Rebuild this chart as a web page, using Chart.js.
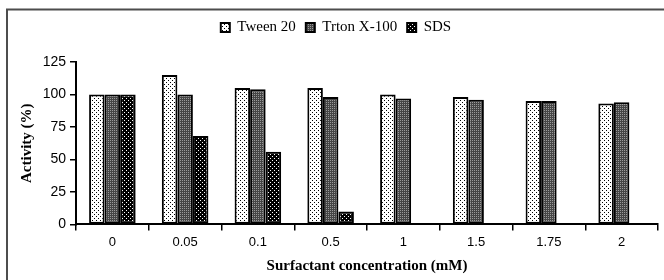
<!DOCTYPE html>
<html><head><meta charset="utf-8">
<script src="https://cdn.jsdelivr.net/npm/chart.js@4/dist/chart.umd.min.js"></script>
<style>html,body{margin:0;padding:0;background:#fff}#wrap{width:664px;height:280px;position:relative}</style>
</head><body><div id="wrap"><canvas id="c" width="664" height="280"></canvas></div>
<script>
const categories = ["0","0.05","0.1","0.5","1","1.5","1.75","2"];
const tween20 = [100,115,105,105,100,98,95,93];
const tritonX100 = [100,100,104,98,97,96,95,94];
const sds = [100,68,56,10,null,null,null,null];
const seriesNames = ["Tween 20","Trton X-100","SDS"];
const yTicks = [0,25,50,75,100,125];

function makePattern(size, bg, fg, dots){
  const c = document.createElement('canvas'); c.width=size; c.height=size;
  const x = c.getContext('2d'); x.fillStyle=bg; x.fillRect(0,0,size,size);
  x.fillStyle=fg; dots.forEach(d=>x.fillRect(d[0],d[1],1,1));
  return document.getElementById('c').getContext('2d').createPattern(c,'repeat');
}
const pTween = makePattern(4,'#ffffff','#000000',[[0,0],[2,2]]);
const pTriton = makePattern(2,'#454545','#9a9a9a',[[0,0]]);
const pSds = makePattern(4,'#000000','#ffffff',[[0,0],[2,2]]);

const framePlugin = {id:'frame',
  afterInit(ch){const lg=ch.legend; if(lg){const f=lg.fit.bind(lg); lg.fit=function(){f(); this.height=52;};}},
  beforeDraw(ch){const g=ch.ctx; g.save(); g.fillStyle='#fff'; g.fillRect(0,0,ch.width,ch.height);
  g.strokeStyle='#4d4d4d'; g.lineWidth=2; g.beginPath(); g.moveTo(7,290); g.lineTo(7,9.5); g.lineTo(670,9.5); g.stroke(); g.restore();}};

new Chart(document.getElementById('c'),{
  type:'bar',
  data:{labels:categories,datasets:[
    {label:seriesNames[0],data:tween20,backgroundColor:pTween,borderColor:'#000',borderWidth:2,borderSkipped:false},
    {label:seriesNames[1],data:tritonX100,backgroundColor:pTriton,borderColor:'#000',borderWidth:2,borderSkipped:false},
    {label:seriesNames[2],data:sds,backgroundColor:pSds,borderColor:'#000',borderWidth:2,borderSkipped:false}
  ]},
  options:{
    responsive:false,animation:false,devicePixelRatio:1,
    layout:{padding:{left:14,right:6,top:10,bottom:4}},
    datasets:{bar:{categoryPercentage:0.64,barPercentage:1}},
    plugins:{
      tooltip:{enabled:false},
      legend:{position:'top',labels:{boxWidth:9,boxHeight:9,padding:10,color:'#000',
        font:{family:'"Liberation Serif", serif',size:15}}}
    },
    scales:{
      x:{grid:{display:true,drawOnChartArea:false,offset:true,tickLength:6,color:'#000',lineWidth:1.5},
         border:{color:'#000',width:2},
         ticks:{color:'#000',font:{family:'"Liberation Sans", sans-serif',size:13},padding:4},
         title:{display:true,text:'Surfactant concentration (mM)',color:'#000',padding:{top:3,bottom:1},
           font:{family:'"Liberation Serif", serif',size:15,weight:'bold'}}},
      y:{min:0,max:125,afterBuildTicks(s){s.ticks=yTicks.map(v=>({value:v}));},
         afterFit(s){s.width=62;},
         grid:{display:true,drawOnChartArea:false,tickLength:6,color:'#000',lineWidth:1.5},
         border:{color:'#000',width:2},
         ticks:{color:'#000',font:{family:'"Liberation Sans", sans-serif',size:14},padding:4},
         title:{display:true,text:'Activity (%)',color:'#000',padding:{top:4,bottom:4},
           font:{family:'"Liberation Serif", serif',size:15,weight:'bold'}}}
    }
  },
  plugins:[framePlugin]
});
</script></body></html>
